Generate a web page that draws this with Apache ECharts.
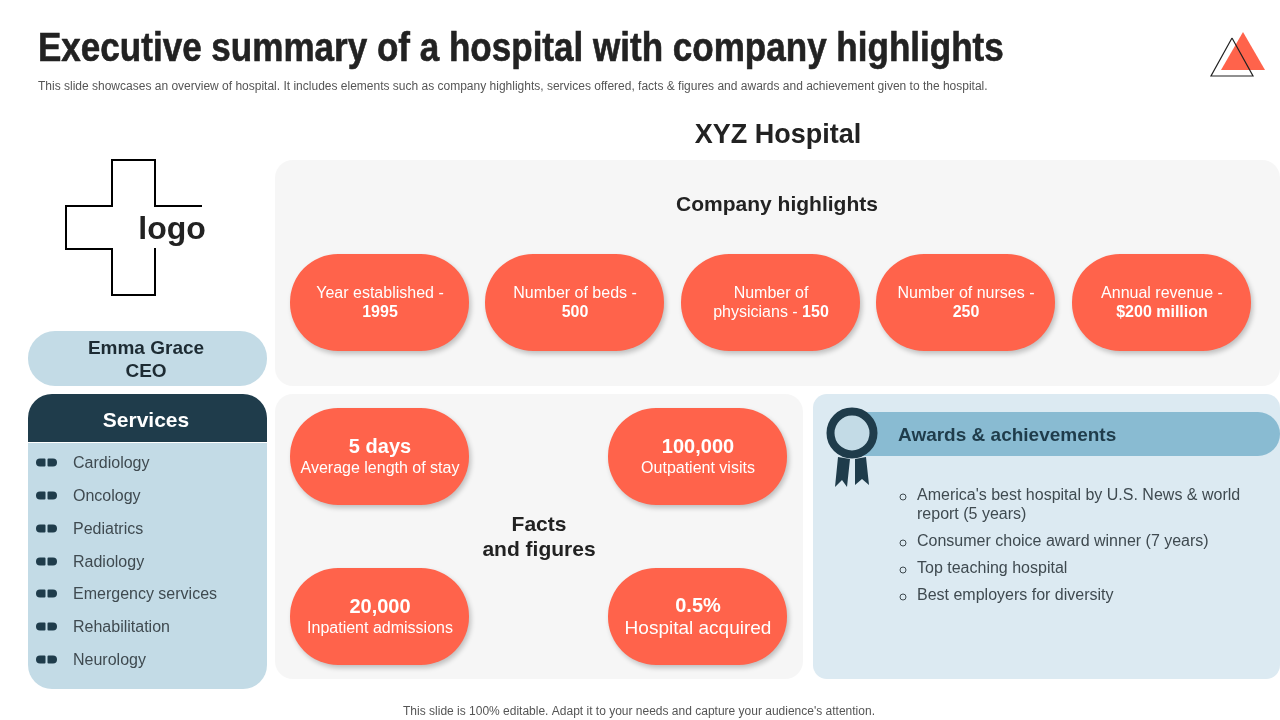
<!DOCTYPE html>
<html>
<head>
<meta charset="utf-8">
<title>Executive summary</title>
<script src="https://cdn.jsdelivr.net/npm/echarts@6/dist/echarts.min.js"></script>
<style>
	html, body {margin: 0; padding: 0; background: #fff;}
	#main {width: 1280px; height: 720px;}
</style>
</head>
<body>
<div id="main"></div>
<script>
'use strict';
var slideTitle = 'Executive summary of a hospital with company highlights',
	slideSubtitle = 'This slide showcases an overview of hospital. It includes elements such as company highlights, services offered, facts & figures and awards and achievement given to the hospital.',
	slideFooter = "This slide is 100% editable. Adapt it to your needs and capture your audience's attention.",
	hospitalName = 'XYZ Hospital';

var highlightLabels = [['Year established -'], ['Number of beds -'], ['Number of', 'physicians - '], ['Number of nurses -'], ['Annual revenue -']],
	highlightValues = ['1995', '500', '150', '250', '$200 million'];

var factValues = ['5 days', '100,000', '20,000', '0.5%'],
	factLabels = ['Average length of stay', 'Outpatient visits', 'Inpatient admissions', 'Hospital acquired'];

var ceoLines = ['Emma Grace', 'CEO'];

var services = ['Cardiology', 'Oncology', 'Pediatrics', 'Radiology', 'Emergency services', 'Rehabilitation', 'Neurology'];

var awards = [["America's best hospital by U.S. News & world", 'report (5 years)'], ['Consumer choice award winner (7 years)'], ['Top teaching hospital'], ['Best employers for diversity']];

var CORAL = '#ff634b',
	NAVY = '#1f3c4b',
	ICE = '#c3dbe6',
	FONT = '"Liberation Sans", Arial, sans-serif',
	TEXT_DROP = 1.5,
	items = [];

function box(x, y, w, h, r, fill, shadow) {
	var style = {fill: fill};
	if (shadow) {
		style.shadowBlur = 5;
		style.shadowOffsetX = 2;
		style.shadowOffsetY = 3;
		style.shadowColor = 'rgba(0,0,0,0.22)';
	}
	items.push({type: 'rect', shape: {x: x, y: y, width: w, height: h, r: r}, style: style});
}

function label(x, y, str, size, color, weight, align) {
	items.push({
		type: 'text',
		style: {
			x: x, y: y + TEXT_DROP, text: str,
			fontSize: size, fontFamily: FONT, fontWeight: weight || 'normal',
			fill: color, align: align || 'center', verticalAlign: 'middle'
		}
	});
}

function poly(points, fill) {
	items.push({type: 'polygon', shape: {points: points}, style: {fill: fill}});
}

function outline(points, color, width) {
	items.push({type: 'polyline', shape: {points: points}, style: {fill: null, stroke: color, lineWidth: width}});
}

// header, the original title is a squeezed face so scale it down
items.push({
	type: 'text',
	x: 38,
	y: 50,
	scaleX: 0.876,
	style: {
		x: 0, y: 0, text: slideTitle,
		fontSize: 40, fontFamily: FONT, fontWeight: 'bold',
		fill: '#222', stroke: '#222', lineWidth: 0.6, align: 'left', verticalAlign: 'middle'
	}
});
label(38, 85, slideSubtitle, 12, '#555', 'normal', 'left');
poly([[1243, 32], [1265, 70], [1221, 70]], CORAL);
outline([[1232, 38], [1253, 76], [1211, 76], [1232, 38]], '#222', 1.2);

label(778, 134, hospitalName, 27, '#222', 'bold');

// logo
outline([[202, 206], [155, 206], [155, 160], [112, 160], [112, 206], [66, 206], [66, 249], [112, 249], [112, 295], [155, 295], [155, 248]], '#000', 2);
label(172, 229, 'logo', 32, '#222', 'bold');

// ceo pill
box(28, 331, 239, 55, 27, ICE);
ceoLines.forEach(function (line, i) {
	label(146, 347 + i * 23, line, 19, '#1d2b33', 'bold');
});

// services
box(28, 394, 239, 48, [24, 24, 0, 0], NAVY);
box(28, 443, 239, 246, [0, 0, 24, 24], ICE);
label(146, 420, 'Services', 21, '#fff', 'bold');
var serviceRows = [463, 496, 529, 562, 594, 627, 660];
services.forEach(function (name, i) {
	var y = serviceRows[i];
	box(36, y - 4.5, 9.5, 8, [4, 1, 1, 4], NAVY);
	box(47.5, y - 4.5, 9.5, 8, [1, 4, 4, 1], NAVY);
	label(73, y - 1, name, 16, '#3f4a50', 'normal', 'left');
});

// panels
box(275, 160, 1005, 226, 18, '#f6f6f6');
box(275, 394, 528, 285, 18, '#f6f6f6');
box(813, 394, 467, 285, 14, '#dceaf2');

// company highlights
label(777, 204, 'Company highlights', 21, '#222', 'bold');
var highlightX = [290, 485, 681, 876, 1072];
highlightLabels.forEach(function (lines, i) {
	var cx = highlightX[i] + 90;
	box(highlightX[i], 254, 179, 97, 48, CORAL, true);
	label(cx, 292, lines[0], 16, '#fff');
	if (lines.length === 2) {
		// value sits on the same line as the label's tail
		items.push({
			type: 'text',
			style: {
				x: cx, y: 311 + TEXT_DROP,
				text: '{a|' + lines[1] + '}{b|' + highlightValues[i] + '}',
				align: 'center', verticalAlign: 'middle', fill: '#fff',
				rich: {
					a: {fontSize: 16, fontFamily: FONT, fill: '#fff'},
					b: {fontSize: 16, fontFamily: FONT, fill: '#fff', fontWeight: 'bold'}
				}
			}
		});
	} else {
		label(cx, 311, highlightValues[i], 16, '#fff', 'bold');
	}
});

// facts and figures
label(539, 524, 'Facts', 21, '#222', 'bold');
label(539, 549, 'and figures', 21, '#222', 'bold');
var factX = [290, 608, 290, 608],
	factY = [408, 408, 568, 568];
factValues.forEach(function (value, i) {
	var cx = factX[i] + 90,
		last = i === 3;
	box(factX[i], factY[i], 179, 97, 48, CORAL, true);
	label(cx, factY[i] + (last ? 37 : 38), value, 20, '#fff', 'bold');
	label(cx, factY[i] + 59, factLabels[i], last ? 19 : 16, '#fff');
});

// awards
box(860, 412, 420, 44, [0, 22, 22, 0], '#89bbd2');
poly([[838, 457], [850, 459], [847, 487], [842, 480], [835, 487]], NAVY);
poly([[855, 459], [866, 457], [869, 485], [862, 479], [855, 485]], NAVY);
items.push({type: 'circle', shape: {cx: 852, cy: 433, r: 21.5}, style: {fill: ICE, stroke: NAVY, lineWidth: 8}});
label(898, 434, 'Awards & achievements', 19, NAVY, 'bold', 'left');

var awardRows = [[494, 513], [540], [567], [594]];
awards.forEach(function (lines, i) {
	items.push({type: 'circle', shape: {cx: 903, cy: awardRows[i][0] + 3, r: 3}, style: {fill: 'none', stroke: '#3f4a50', lineWidth: 1}});
	lines.forEach(function (line, j) {
		label(917, awardRows[i][j], line, 16, '#3f4a50', 'normal', 'left');
	});
});

label(639, 710, slideFooter, 12, '#555');

var chart = echarts.init(document.getElementById('main'), null, {renderer: 'canvas'});
chart.setOption({
	animation: false,
	backgroundColor: '#fff',
	graphic: {elements: items}
});
</script>
</body>
</html>
